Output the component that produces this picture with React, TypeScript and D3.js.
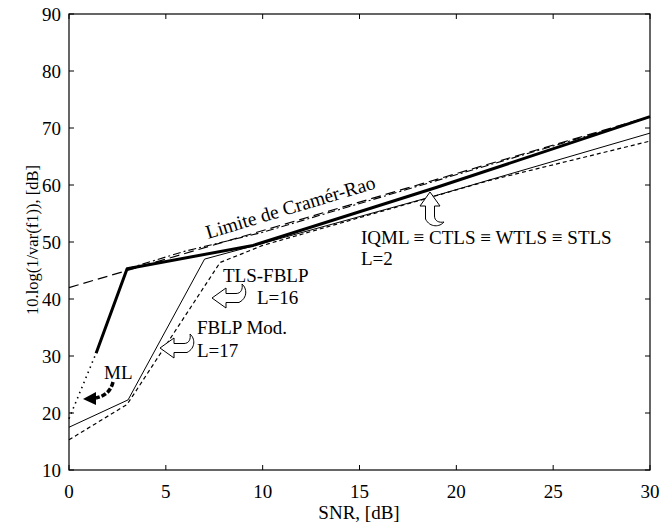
import React from "react";
import * as d3 from "d3";

// Axis ticks
const xTicks = [0, 5, 10, 15, 20, 25, 30];
const yTicks = [10, 20, 30, 40, 50, 60, 70, 80, 90];

// Cramér-Rao bound
const crbSnr = [0, 30];
const crbVal = [42, 72];

// IQML ≡ CTLS ≡ WTLS ≡ STLS (L=2), thick solid
const iqmlSnr = [1.4, 3, 9.5, 19, 30];
const iqmlVal = [30.5, 45.3, 49.4, 59.6, 72];

// ML: dotted below threshold, dash-dot above
const mlLowSnr = [0, 1.4];
const mlLowVal = [19, 30.5];
const mlHighSnr = [3, 6, 10, 30];
const mlHighVal = [45.3, 48.4, 51.7, 71.9];

// thin solid curve
const tlsSnr = [0, 3.05, 7, 9.5, 19, 30];
const tlsVal = [17.5, 22.3, 47, 49.3, 58.2, 69.1];

// short-dashed curve
const fblpSnr = [0, 3, 7.8, 10, 21.7, 30];
const fblpVal = [15.3, 21.5, 46.4, 49.4, 60.8, 67.7];

const W = 660;
const H = 526;
const left = 69;
const right = 650;
const top = 14;
const bottom = 470;

const x = d3.scaleLinear().domain([0, 30]).range([left, right]);
const y = d3.scaleLinear().domain([10, 90]).range([bottom, top]);

const line = d3
  .line<[number, number]>()
  .x((d) => x(d[0]))
  .y((d) => y(d[1]));

const pts = (s: number[], v: number[]) => s.map((d, i) => [d, v[i]] as [number, number]);

const FONT = "'Liberation Serif', 'DejaVu Serif', serif";

// hollow curled block arrow, tip at origin pointing left
const hollowArrow =
  "M0,0 L14,-10 L14,-4.5 L24,-4.5 C29,-4.5 31,-9 30,-14 C35,-10 36,0 27,4.5 L14,4.5 L14,10 Z";

export default function App() {
  const tick = 5;
  return (
    <svg
      width={W}
      height={H}
      style={{ position: "absolute", left: 0, top: 0, background: "#fff" }}
      fontFamily={FONT}
    >
      <rect x={0} y={0} width={W} height={H} fill="#fff" />

      {/* curves */}
      <g fill="none" stroke="#000">
        <path d={line(pts(crbSnr, crbVal))!} strokeWidth={1.2} strokeDasharray="10,5" />
        <path d={line(pts(mlHighSnr, mlHighVal))!} strokeWidth={1.1} strokeDasharray="8,3,2,3" />
        <path d={line(pts(mlLowSnr, mlLowVal))!} strokeWidth={1.6} strokeDasharray="1.5,4" />
        <path d={line(pts(fblpSnr, fblpVal))!} strokeWidth={1.2} strokeDasharray="4,3" />
        <path d={line(pts(tlsSnr, tlsVal))!} strokeWidth={1} />
        <path d={line(pts(iqmlSnr, iqmlVal))!} strokeWidth={3} strokeLinejoin="round" />
      </g>

      {/* frame */}
      <rect
        x={left}
        y={top}
        width={right - left}
        height={bottom - top}
        fill="none"
        stroke="#000"
        strokeWidth={1.2}
      />
      <g stroke="#000" strokeWidth={1}>
        {xTicks.map((t) => (
          <g key={"xt" + t}>
            <line x1={x(t)} x2={x(t)} y1={bottom} y2={bottom - tick} />
            <line x1={x(t)} x2={x(t)} y1={top} y2={top + tick} />
          </g>
        ))}
        {yTicks.map((t) => (
          <g key={"yt" + t}>
            <line x1={left} x2={left + tick} y1={y(t)} y2={y(t)} />
            <line x1={right} x2={right - tick} y1={y(t)} y2={y(t)} />
          </g>
        ))}
      </g>

      {/* tick labels */}
      <g fontSize={19} fill="#000">
        {xTicks.map((t) => (
          <text key={"xl" + t} x={x(t)} y={498} textAnchor="middle">
            {t}
          </text>
        ))}
        {yTicks.map((t) => (
          <text key={"yl" + t} x={61} y={y(t) + 7} textAnchor="end">
            {t}
          </text>
        ))}
      </g>

      {/* axis titles */}
      <text x={359} y={519} textAnchor="middle" fontSize={19}>
        SNR, [dB]
      </text>
      <text
        transform={`translate(38,240) rotate(-90)`}
        textAnchor="middle"
        fontSize={16.5}
      >
        10.log(1/var(f1)), [dB]
      </text>

      {/* annotations */}
      <g fontSize={19}>
        <text transform="translate(208,239) rotate(-16.8)" fontSize={19.5}>
          Limite de Cramér-Rao
        </text>
        <text x={361} y={244}>
          IQML ≡ CTLS ≡ WTLS ≡ STLS
        </text>
        <text x={361} y={265}>
          L=2
        </text>
        <text x={223} y={282}>
          TLS-FBLP
        </text>
        <text x={257} y={304}>
          L=16
        </text>
        <text x={197} y={334}>
          FBLP Mod.
        </text>
        <text x={197} y={357}>
          L=17
        </text>
        <text x={104} y={379}>
          ML
        </text>
      </g>

      {/* hollow arrows */}
      <g fill="#fff" stroke="#000" strokeWidth={1}>
        <path d={hollowArrow} transform="translate(212,298)" />
        <path d={hollowArrow} transform="translate(160,348)" />
        <path d={hollowArrow} transform="translate(430,192) rotate(90)" />
      </g>

      {/* ML pointer */}
      <path
        d="M113,382 Q110,395 96,398"
        fill="none"
        stroke="#000"
        strokeWidth={3.5}
        strokeDasharray="5,2"
      />
      <path d="M83,399 L96,392 L96,405 Z" fill="#000" />
    </svg>
  );
}
